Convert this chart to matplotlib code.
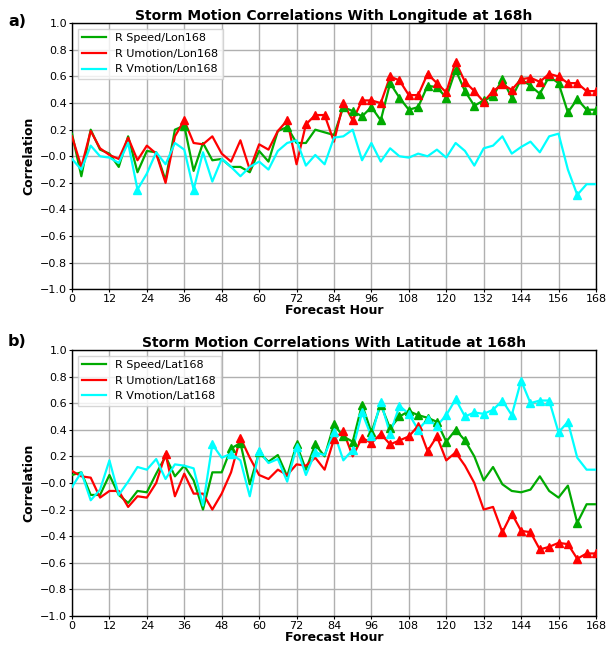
import numpy as np
import matplotlib
matplotlib.use("Agg")
import matplotlib.pyplot as plt

hours = list(range(0, 169, 3))

# Panel a) correlations with longitude at 168h
lon_speed = [0.17, -0.15, 0.20, 0.05, 0.02, -0.08, 0.15, -0.12, 0.04, 0.03,
             -0.18, 0.20, 0.23, -0.11, 0.10, -0.03, -0.02, -0.08, -0.08, -0.12,
             0.04, -0.04, 0.19, 0.22, 0.10, 0.10, 0.20, 0.18, 0.16, 0.37,
             0.34, 0.30, 0.37, 0.27, 0.55, 0.44, 0.35, 0.37, 0.53, 0.52,
             0.44, 0.65, 0.49, 0.38, 0.42, 0.45, 0.58, 0.44, 0.58, 0.53,
             0.47, 0.60, 0.55, 0.33, 0.43, 0.35, 0.35]
lon_umotion = [0.15, -0.08, 0.19, 0.06, 0.01, -0.02, 0.14, -0.03, 0.08, 0.02,
               -0.20, 0.15, 0.27, 0.10, 0.09, 0.15, 0.02, -0.04, 0.12, -0.10,
               0.09, 0.05, 0.19, 0.27, -0.06, 0.24, 0.31, 0.31, 0.11, 0.40,
               0.27, 0.42, 0.42, 0.40, 0.60, 0.57, 0.46, 0.46, 0.62, 0.55,
               0.48, 0.71, 0.56, 0.49, 0.41, 0.49, 0.54, 0.50, 0.58, 0.59,
               0.56, 0.62, 0.60, 0.55, 0.55, 0.49, 0.49]
lon_vmotion = [-0.02, -0.10, 0.08, 0.00, -0.01, -0.05, 0.10, -0.25, -0.13, 0.03,
               -0.06, 0.10, 0.05, -0.25, 0.03, -0.19, -0.02, -0.08, -0.15, -0.08,
               -0.04, -0.10, 0.04, 0.10, 0.12, -0.07, 0.01, -0.06, 0.14, 0.15,
               0.20, -0.03, 0.10, -0.04, 0.06, 0.00, -0.01, 0.02, 0.00, 0.05,
               -0.01, 0.10, 0.04, -0.07, 0.06, 0.08, 0.15, 0.02, 0.07, 0.11,
               0.03, 0.15, 0.17, -0.10, -0.29, -0.21, -0.21]

# Panel b) correlations with latitude at 168h
lat_speed = [0.06, 0.08, -0.09, -0.09, 0.06, -0.09, -0.15, -0.06, -0.07, 0.07,
             0.20, 0.05, 0.13, 0.02, -0.20, 0.08, 0.08, 0.26, 0.30, -0.01,
             0.23, 0.16, 0.21, 0.05, 0.29, 0.10, 0.29, 0.20, 0.44, 0.35,
             0.31, 0.59, 0.38, 0.59, 0.41, 0.50, 0.54, 0.51, 0.49, 0.46,
             0.31, 0.40, 0.32, 0.20, 0.02, 0.12, -0.01, -0.06, -0.07, -0.05,
             0.05, -0.06, -0.11, -0.02, -0.30, -0.16, -0.16]
lat_umotion = [0.09, 0.05, 0.04, -0.11, -0.06, -0.06, -0.18, -0.10, -0.11, 0.00,
               0.22, -0.10, 0.07, -0.08, -0.08, -0.20, -0.08, 0.08, 0.34, 0.19,
               0.06, 0.03, 0.10, 0.06, 0.14, 0.13, 0.19, 0.10, 0.33, 0.39,
               0.20, 0.34, 0.30, 0.37, 0.29, 0.32, 0.35, 0.43, 0.24, 0.35,
               0.17, 0.23, 0.13, 0.00, -0.20, -0.18, -0.37, -0.23, -0.36, -0.37,
               -0.50, -0.48, -0.45, -0.46, -0.57, -0.53, -0.53]
lat_vmotion = [-0.03, 0.08, -0.13, -0.05, 0.17, -0.09, 0.01, 0.12, 0.10, 0.18,
               0.03, 0.14, 0.13, 0.11, -0.17, 0.29, 0.19, 0.22, 0.17, -0.10,
               0.24, 0.15, 0.18, 0.01, 0.27, 0.06, 0.23, 0.21, 0.38, 0.17,
               0.25, 0.53, 0.35, 0.61, 0.37, 0.58, 0.52, 0.40, 0.48, 0.43,
               0.51, 0.63, 0.50, 0.53, 0.52, 0.55, 0.62, 0.51, 0.77, 0.60,
               0.62, 0.62, 0.38, 0.46, 0.19, 0.10, 0.10]

sig_level = 0.215

colors = ["#00AA00", "#FF0000", "#00FFFF"]

panels = [
    ("a)", "Storm Motion Correlations With Longitude at 168h",
     [lon_speed, lon_umotion, lon_vmotion],
     ["R Speed/Lon168", "R Umotion/Lon168", "R Vmotion/Lon168"]),
    ("b)", "Storm Motion Correlations With Latitude at 168h",
     [lat_speed, lat_umotion, lat_vmotion],
     ["R Speed/Lat168", "R Umotion/Lat168", "R Vmotion/Lat168"]),
]

fig = plt.figure(figsize=(6.08, 6.45), dpi=100)
rects = [[0.1184, 0.5515, 0.8618, 0.4124], [0.1184, 0.0450, 0.8618, 0.4124]]
label_y = [0.978, 0.482]
yt = np.round(np.arange(-1.0, 1.01, 0.2), 1)

for k, (tag, title, series, names) in enumerate(panels):
    ax = fig.add_axes(rects[k])
    x = np.array(hours)
    for vals, col, name in zip(series, colors, names):
        v = np.array(vals)
        ax.plot(x, v, color=col, lw=1.6, label=name, zorder=3)
        m = np.abs(v) >= sig_level
        ax.plot(x[m], v[m], ls="none", marker="^", ms=5.5, color=col, zorder=4)
    ax.set_xlim(0, 168)
    ax.set_ylim(-1.0, 1.0)
    ax.set_xticks(range(0, 169, 12))
    ax.set_yticks(yt)
    ax.set_yticklabels([f"{t:.1f}".replace("-", "\u2212") for t in yt])
    ax.grid(True, color="#b0b0b0", lw=1.0, zorder=0)
    ax.tick_params(labelsize=8, length=2, pad=1.5)
    for s in ax.spines.values():
        s.set_linewidth(1.0)
    ax.set_title(title, fontsize=10, fontweight="bold", pad=2)
    ax.set_xlabel("Forecast Hour", fontsize=9, fontweight="bold", labelpad=0)
    ax.set_ylabel("Correlation", fontsize=9, fontweight="bold", labelpad=3)
    ax.legend(loc="upper left", fontsize=8, frameon=True, fancybox=False,
              handlelength=2.2, borderaxespad=0.5)
    fig.text(0.013, label_y[k], tag, fontsize=11.5, fontweight="bold",
             ha="left", va="top")

fig.savefig("out.png", dpi=100)
